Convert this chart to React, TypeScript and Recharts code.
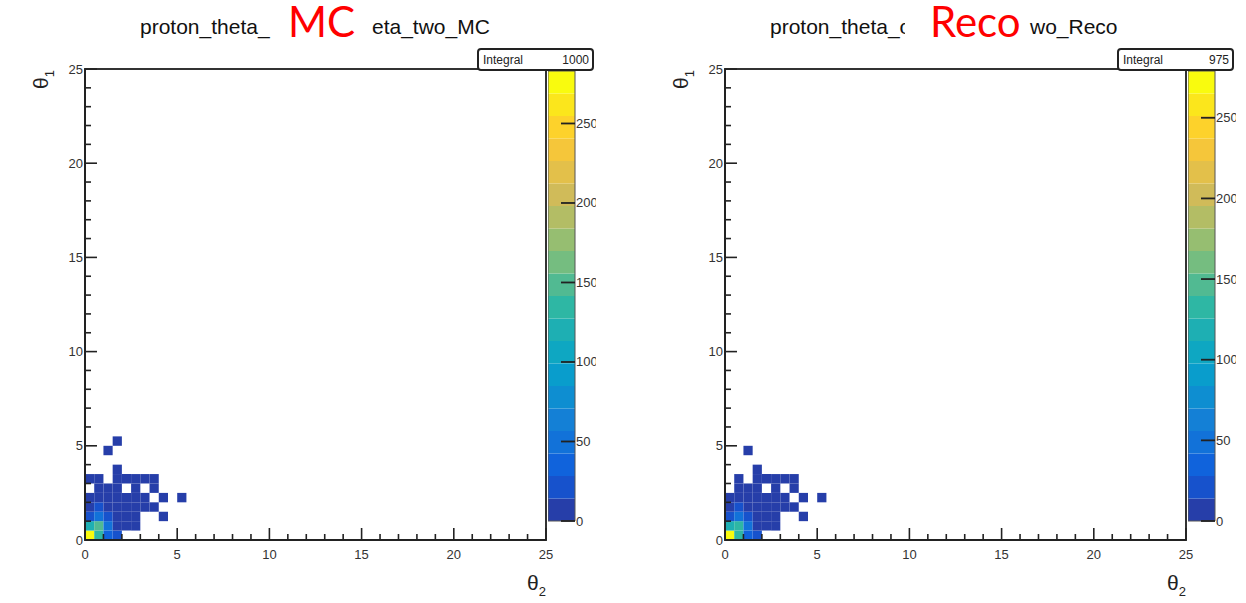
import { ComposedChart, ReferenceArea, XAxis, YAxis } from "recharts";

// bin contents (rows = theta_1 bins of 0.5, cols = theta_2 bins of 0.5)
const binWidth = 0.5;

const mcCounts: number[][] = [
    [270, 135, 33, 20, 0, 0, 0, 0, 0, 0, 0],
    [125, 145, 44, 12, 6, 3, 0, 0, 0, 0, 0],
    [28, 46, 26, 8, 3, 1, 0, 0, 1, 0, 0],
    [12, 24, 10, 4, 3, 2, 1, 1, 0, 0, 0],
    [4, 5, 3, 2, 1, 1, 1, 0, 1, 0, 1],
    [0, 3, 2, 2, 0, 1, 0, 1, 0, 0, 0],
    [1, 2, 0, 1, 1, 1, 1, 1, 0, 0, 0],
    [0, 0, 0, 1, 0, 0, 0, 0, 0, 0, 0],
    [0, 0, 0, 0, 0, 0, 0, 0, 0, 0, 0],
    [0, 0, 1, 0, 0, 0, 0, 0, 0, 0, 0],
    [0, 0, 0, 1, 0, 0, 0, 0, 0, 0, 0],
];

const recoCounts: number[][] = [
    [266, 138, 30, 18, 0, 0, 0, 0, 0, 0, 0],
    [120, 138, 44, 10, 5, 2, 0, 0, 0, 0, 0],
    [26, 44, 24, 8, 3, 1, 0, 0, 1, 0, 0],
    [12, 22, 10, 4, 3, 2, 1, 1, 0, 0, 0],
    [4, 5, 3, 2, 1, 1, 1, 0, 1, 0, 1],
    [0, 3, 2, 2, 0, 1, 0, 1, 0, 0, 0],
    [0, 2, 0, 1, 1, 1, 1, 1, 0, 0, 0],
    [0, 0, 0, 1, 0, 0, 0, 0, 0, 0, 0],
    [0, 0, 0, 0, 0, 0, 0, 0, 0, 0, 0],
    [0, 0, 1, 0, 0, 0, 0, 0, 0, 0, 0],
];

const mcZMax = 283;
const recoZMax = 279;
const mcIntegral = "1000";
const recoIntegral = "975";

const axisTicks = [0, 1, 2, 3, 4, 5, 6, 7, 8, 9, 10, 11, 12, 13, 14, 15, 16, 17, 18, 19, 20, 21, 22, 23, 24, 25];
const paletteTicks = [0, 50, 100, 150, 200, 250];
const nLevels = 20;

// ROOT kBird palette
const birdStops = [0.0, 0.125, 0.25, 0.375, 0.5, 0.625, 0.75, 0.875, 1.0];
const birdRed = [0.2082, 0.0592, 0.078, 0.0232, 0.1802, 0.5301, 0.8186, 0.9956, 0.9764];
const birdGreen = [0.1664, 0.3599, 0.5041, 0.6419, 0.7178, 0.7492, 0.7328, 0.7862, 0.9832];
const birdBlue = [0.5293, 0.8684, 0.8385, 0.7914, 0.6425, 0.4662, 0.3499, 0.1968, 0.0539];

const bird = (t: number) => {
    const tt = Math.min(1, Math.max(0, t));
    let i = 0;
    while (i < birdStops.length - 2 && tt > birdStops[i + 1]) i++;
    const f = (tt - birdStops[i]) / (birdStops[i + 1] - birdStops[i]);
    const mix = (a: number[]) => Math.round(255 * (a[i] + f * (a[i + 1] - a[i])));
    return `rgb(${mix(birdRed)},${mix(birdGreen)},${mix(birdBlue)})`;
};

const levelColor = (k: number) => bird((k + 0.99) / nLevels);

const font = "'Liberation Sans', Arial, sans-serif";
const ink = "#222";

const renderXTick = (props: any) => {
    const { x, y, payload } = props;
    const major = payload.value % 5 === 0;
    return (
        <g>
            <line x1={x} x2={x} y1={y} y2={y - (major ? 12 : 6)} stroke={ink} strokeWidth={1.6} />
            {major && (
                <text x={x} y={y + 14} textAnchor="middle" dominantBaseline="central" fontSize={13} fontFamily={font} fill="#333">
                    {payload.value}
                </text>
            )}
        </g>
    );
};

const renderYTick = (props: any) => {
    const { x, y, payload } = props;
    const major = payload.value % 5 === 0;
    return (
        <g>
            <line x1={x} x2={x + (major ? 12 : 6)} y1={y} y2={y} stroke={ink} strokeWidth={1.6} />
            {major && (
                <text x={x - 2} y={y} textAnchor="end" dominantBaseline="central" fontSize={13} fontFamily={font} fill="#333">
                    {payload.value}
                </text>
            )}
        </g>
    );
};

const renderZTick = (props: any) => {
    const { x, y, payload } = props;
    return (
        <g>
            <line x1={x - 14} x2={x} y1={y} y2={y} stroke={ink} strokeWidth={1.8} />
            <text x={x + 1} y={y} textAnchor="start" dominantBaseline="central" fontSize={13} fontFamily={font} fill="#333">
                {payload.value}
            </text>
        </g>
    );
};

interface PanelProps {
    left: number
    counts: number[][]
    zMax: number
    integral: string
    titleHead: string
    titleTail: string
    tag: string
    headX: number
    tagX: number
    tailX: number
    coverX: number
    coverW: number
}

const Panel = ({ left, counts, zMax, integral, titleHead, titleTail, tag, headX, tagX, tailX, coverX, coverW }: PanelProps) => {
    const cells = counts.flatMap((row, j) =>
        row.map((v, i) => ({
            x1: i * binWidth,
            x2: (i + 1) * binWidth,
            y1: j * binWidth,
            y2: (j + 1) * binWidth,
            v,
        }))
    ).filter(c => c.v > 0);

    const bands = Array.from({ length: nLevels }, (_, k) => ({
        y1: (k * zMax) / nLevels,
        y2: ((k + 1) * zMax) / nLevels,
        k,
    }));

    const levelOf = (v: number) => Math.min(nLevels - 1, Math.floor((v / zMax) * nLevels));

    return (
        <div style={{ position: "absolute", left, top: 0, width: 596, height: 603, overflow: "hidden" }}>
            <div style={{ position: "absolute", left: 0, top: 0 }}>
                <ComposedChart width={600} height={603} data={cells} margin={{ top: 69, right: 54, bottom: 33, left: 55 }}>
                    <XAxis
                        type="number"
                        dataKey="x1"
                        domain={[0, 25]}
                        ticks={axisTicks}
                        interval={0}
                        height={30}
                        tickSize={0}
                        tickMargin={0}
                        tickLine={false}
                        axisLine={{ stroke: ink, strokeWidth: 2 }}
                        tick={renderXTick}
                        allowDataOverflow
                    />
                    <YAxis
                        type="number"
                        dataKey="y1"
                        domain={[0, 25]}
                        ticks={axisTicks}
                        interval={0}
                        width={30}
                        tickSize={0}
                        tickMargin={0}
                        tickLine={false}
                        axisLine={{ stroke: ink, strokeWidth: 2 }}
                        tick={renderYTick}
                        allowDataOverflow
                    />
                    {cells.map((c, idx) => (
                        <ReferenceArea
                            key={idx}
                            x1={c.x1}
                            x2={c.x2}
                            y1={c.y1}
                            y2={c.y2}
                            fill={levelColor(levelOf(c.v))}
                            fillOpacity={1}
                            stroke="none"
                            ifOverflow="visible"
                        />
                    ))}
                    <ReferenceArea x1={0} x2={25} y1={0} y2={25} fill="none" fillOpacity={0} stroke="#333" strokeWidth={2} ifOverflow="visible" />
                </ComposedChart>
            </div>

            <div style={{ position: "absolute", left: 548, top: 0, width: 48, height: 603, overflow: "hidden" }}>
                <ComposedChart width={48} height={603} data={bands} margin={{ top: 71, right: 0, bottom: 82, left: 0 }}>
                    <XAxis type="number" dataKey="k" domain={[0, 1]} allowDataOverflow hide />
                    <YAxis
                        type="number"
                        dataKey="y2"
                        orientation="right"
                        domain={[0, zMax]}
                        ticks={paletteTicks}
                        interval={0}
                        width={21}
                        tickSize={0}
                        tickMargin={0}
                        tickLine={false}
                        axisLine={false}
                        tick={renderZTick}
                        allowDataOverflow
                    />
                    {bands.map(b => (
                        <ReferenceArea
                            key={b.k}
                            x1={0}
                            x2={1}
                            y1={b.y1}
                            y2={b.y2}
                            fill={levelColor(b.k)}
                            fillOpacity={1}
                            stroke="none"
                            ifOverflow="visible"
                        />
                    ))}
                    <ReferenceArea x1={0} x2={1} y1={0} y2={zMax} fill="none" fillOpacity={0} stroke="#555" strokeWidth={1} ifOverflow="visible" />
                </ComposedChart>
            </div>

            <div
                style={{
                    position: "absolute",
                    left: 477,
                    top: 48,
                    width: 106,
                    height: 19,
                    border: "2px solid #222",
                    borderRadius: 4,
                    background: "#fff",
                    fontFamily: font,
                    fontSize: 12,
                    color: "#222",
                    display: "flex",
                    justifyContent: "space-between",
                    alignItems: "center",
                    padding: "0 3px 0 4px",
                    boxSizing: "content-box",
                }}
            >
                <span>Integral</span>
                <span>{integral}</span>
            </div>

            <svg width={596} height={603} style={{ position: "absolute", left: 0, top: 0, pointerEvents: "none" }}>
                <text x={headX} y={34} fontSize={21} fontFamily={font} fill="#111">{titleHead}</text>
                <text x={tailX} y={34} fontSize={21} fontFamily={font} fill="#111">{titleTail}</text>
                <rect x={coverX} y={0} width={coverW} height={45} fill="#fff" />
                <text x={tagX} y={37} fontSize={42} fontFamily="Lato, 'Open Sans', sans-serif" fill="#ff0000">{tag}</text>

                <text x={546} y={590} textAnchor="end" fontSize={21} fontFamily={font} fill="#222">
                    θ<tspan fontSize={13} dy={6}>2</tspan>
                </text>
                <text x={48} y={70} textAnchor="end" fontSize={21} fontFamily={font} fill="#222" transform="rotate(-90 48 70)">
                    θ<tspan fontSize={13} dy={6}>1</tspan>
                </text>
            </svg>
        </div>
    );
};

export default function App() {
    return (
        <div style={{ position: "absolute", left: 0, top: 0, width: 1246, height: 603, background: "#fff", overflow: "hidden" }}>
            <Panel
                left={0}
                counts={mcCounts}
                zMax={mcZMax}
                integral={mcIntegral}
                titleHead="proton_theta_"
                titleTail="eta_two_MC"
                tag="MC"
                headX={140}
                tagX={288}
                tailX={372}
                coverX={274}
                coverW={96}
            />
            <Panel
                left={640}
                counts={recoCounts}
                zMax={recoZMax}
                integral={recoIntegral}
                titleHead="proton_theta_one"
                titleTail="wo_Reco"
                tag="Reco"
                headX={130}
                tagX={290}
                tailX={390}
                coverX={265}
                coverW={123}
            />
        </div>
    );
}
